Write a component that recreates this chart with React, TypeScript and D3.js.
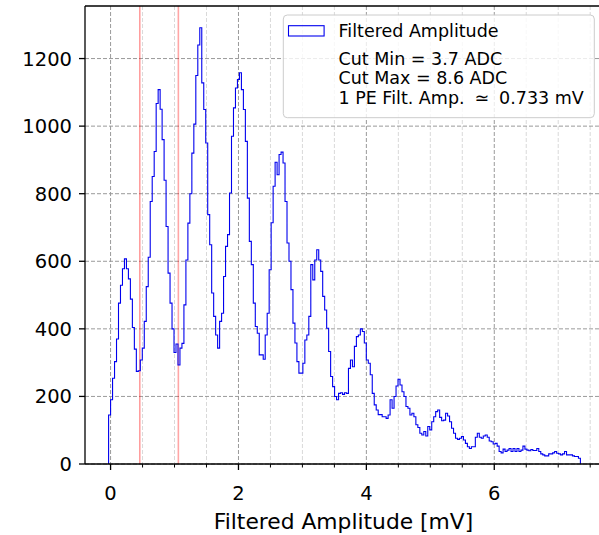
import React from 'react';
import * as d3 from 'd3';

// Histogram (filtered amplitude, mV)
const binStart = -0.031;
const binWidth = 0.031;
const counts = [
  145, 190, 254, 303, 370, 476, 529, 578, 607, 578,
  548, 488, 404, 340, 274, 276, 308, 343, 422, 525,
  612, 777, 851, 925, 1067, 1108, 1050, 960, 840, 703,
  565, 476, 400, 330, 355, 293, 343, 357, 471, 604,
  713, 800, 920, 1006, 1150, 1240, 1291, 1128, 1049, 950,
  738, 649, 506, 437, 382, 343, 422, 446, 555, 644,
  679, 802, 970, 1054, 1113, 1138, 1158, 1108, 1049, 955,
  787, 659, 590, 476, 407, 387, 323, 323, 310, 382,
  446, 575, 714, 822, 893, 856, 916, 923, 891, 777,
  654, 600, 516, 417, 358, 303, 269, 269, 298, 367,
  382, 437, 590, 545, 604, 634, 604, 570, 496, 456,
  402, 333, 259, 229, 200, 190, 209, 211, 206, 211,
  209, 283, 308, 288, 348, 377, 382, 400, 392, 358,
  308, 298, 264, 209, 175, 160, 146, 146, 140, 140,
  135, 145, 190, 165, 200, 231, 251, 234, 214, 200,
  170, 165, 145, 150, 140, 116, 108, 91, 86, 96,
  83, 111, 101, 125, 140, 155, 160, 138, 128, 130,
  150, 142, 125, 106, 91, 76, 73, 76, 81, 71,
  61, 51, 46, 51, 51, 79, 91, 79, 76, 83,
  86, 79, 68, 66, 59, 61, 53, 37, 33, 44,
  37, 41, 46, 37, 46, 37, 46, 37, 41, 53,
  44, 41, 39, 43, 40, 40, 46, 37, 30, 27,
  24, 24, 30, 30, 33, 37, 32, 30, 27, 30,
  37, 27, 27, 27, 24, 22, 22, 17,
];
const cutLines = [0.458, 1.06];
const xTicks = [0, 2, 4, 6];
const xMinorStep = 0.5;
const yTicks = [0, 200, 400, 600, 800, 1000, 1200];
const legendLabel = 'Filtered Amplitude';
const legendNotes = ['Cut Min = 3.7 ADC', 'Cut Max = 8.6 ADC', '1 PE Filt. Amp. \u2005\u2243\u2005 0.733 mV'];
const xLabel = 'Filtered Amplitude [mV]';

const FONT = 'DejaVu Sans, sans-serif';

export default function App() {
  const W = 599, H = 535;
  const L = 85, R = 604, T = 6, B = 464;
  const N = counts.length;
  const edges = d3.range(N + 1).map((i) => binStart + i * binWidth);
  const lo = edges[0], hi = edges[N];
  const pad = (hi - lo) * 0.05;
  const x = d3.scaleLinear().domain([lo - pad, hi + pad]).range([L, R]);
  const yMax = (d3.max(counts) as number) * 1.05;
  const y = d3.scaleLinear().domain([0, yMax]).range([B, T]);

  const pts: [number, number][] = [
    [edges[0], 0],
    ...counts.map((c, i) => [edges[i], c] as [number, number]),
    [edges[N], counts[N - 1]],
    [edges[N], 0],
  ];
  const line = d3
    .line<[number, number]>()
    .x((d) => x(d[0]))
    .y((d) => y(d[1]))
    .curve(d3.curveStepAfter);

  const [dMin, dMax] = x.domain();
  const minor = d3
    .range(Math.ceil(dMin / xMinorStep) * xMinorStep, dMax, xMinorStep)
    .filter((v) => !xTicks.some((t) => Math.abs(t - v) < 1e-9));

  const cutStyles = [
    { op: 0.6, w: 1 },
    { op: 0.35, w: 1.6 },
  ];

  return (
    <svg
      width={W}
      height={H}
      style={{ position: 'absolute', left: 0, top: 0, background: '#fff' }}
      fontFamily={FONT}
    >
      <rect x={0} y={0} width={W} height={H} fill="#fff" />
      {/* minor grid */}
      {minor.map((v) => (
        <line key={'mg' + v} x1={x(v)} x2={x(v)} y1={T} y2={B} stroke="#d9d9d9" strokeWidth={1} strokeDasharray="4,2" />
      ))}
      {/* major grid */}
      {xTicks.map((v) => (
        <line key={'gx' + v} x1={x(v)} x2={x(v)} y1={T} y2={B} stroke="#9a9a9a" strokeWidth={1} strokeDasharray="4,2" />
      ))}
      {yTicks.map((v) => (
        <line key={'gy' + v} x1={L} x2={R} y1={y(v)} y2={y(v)} stroke="#9a9a9a" strokeWidth={1} strokeDasharray="4,2" />
      ))}
      {/* cut lines */}
      {cutLines.map((v, i) => (
        <line key={'cut' + i} x1={x(v)} x2={x(v)} y1={T} y2={B} stroke="red" strokeOpacity={cutStyles[i].op} strokeWidth={cutStyles[i].w} />
      ))}
      {/* histogram */}
      <path d={line(pts) || ''} fill="none" stroke="#0000ee" strokeWidth={1.1} />
      {/* spines */}
      <line x1={L} x2={L} y1={T} y2={B} stroke="#000" strokeWidth={1.3} />
      <line x1={L} x2={R} y1={B} y2={B} stroke="#000" strokeWidth={1.3} />
      <line x1={L} x2={R} y1={T} y2={T} stroke="#000" strokeWidth={1.3} />
      <line x1={R} x2={R} y1={T} y2={B} stroke="#000" strokeWidth={1.3} />
      {/* y ticks */}
      {yTicks.map((v) => (
        <g key={'yt' + v}>
          <line x1={L} x2={L - 6} y1={y(v)} y2={y(v)} stroke="#000" strokeWidth={1.3} />
          <text x={L - 13} y={y(v)} dy="0.36em" textAnchor="end" fontSize={19.5} fill="#000">
            {v}
          </text>
        </g>
      ))}
      {/* x ticks */}
      {minor.map((v) => (
        <line key={'xm' + v} x1={x(v)} x2={x(v)} y1={B} y2={B + 3.5} stroke="#000" strokeWidth={1} />
      ))}
      {xTicks.map((v) => (
        <g key={'xt' + v}>
          <line x1={x(v)} x2={x(v)} y1={B} y2={B + 6} stroke="#000" strokeWidth={1.3} />
          <text x={x(v)} y={500} textAnchor="middle" fontSize={19.5} fill="#000">
            {v}
          </text>
        </g>
      ))}
      <text x={(L + 604) / 2 - 1} y={529} textAnchor="middle" fontSize={21.8} fill="#000">
        {xLabel}
      </text>
      {/* legend */}
      <rect x={283.3} y={15} width={311} height={102.7} rx={4} fill="#fff" fillOpacity={0.8} stroke="#cccccc" strokeWidth={1} />
      <rect x={288.5} y={25.7} width={35.6} height={10.3} fill="none" stroke="#0000ee" strokeWidth={1.1} />
      <text x={338.5} y={36.7} fontSize={17.5} fill="#000">
        {legendLabel}
      </text>
      {legendNotes.map((s, i) => (
        <text key={'ln' + i} x={338.5} y={64.5 + i * 19.9} fontSize={17.5} fill="#000">
          {s}
        </text>
      ))}
    </svg>
  );
}
